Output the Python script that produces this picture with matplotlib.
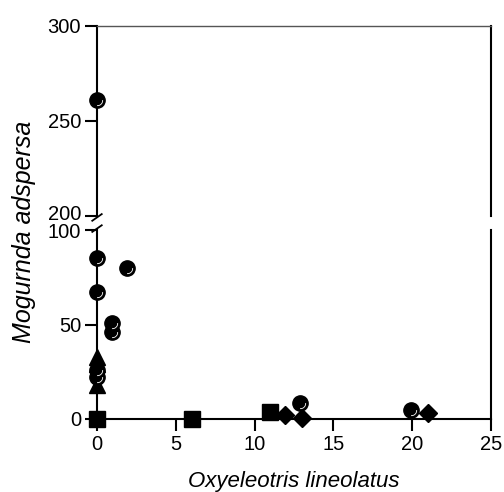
import matplotlib.pyplot as plt
import matplotlib.transforms as mtransforms
from matplotlib.path import Path

plt.rcParams['font.family'] = ['Liberation Sans', 'DejaVu Sans']

# circles
circ_x = [0, 0, 0, 0, 1.9, 0.95, 0.95, 12.9, 19.9]
circ_y = [85, 67, 26, 22, 80, 51, 46, 8.5, 4.8]
# circle in upper panel
circ_top_x = [0]
circ_top_y = [261]
# triangles
tri_x = [0, 0, 0]
tri_y = [33, 29, 18]
# squares
sq_x = [0, 6, 11]
sq_y = [0, 0, 3.7]
# diamonds
dia_x = [11.9, 13, 21]
dia_y = [2, 0.5, 3]

fig = plt.figure(figsize=(5.04, 4.92), dpi=100)
ax_top = fig.add_axes([97/504, 1 - 216/492, 394/504, 190/492])
ax_bot = fig.add_axes([97/504, 1 - 419/492, 394/504, 189/492])

ax_top.set_ylim(200, 300)
ax_bot.set_ylim(0, 100)
for ax in (ax_top, ax_bot):
    ax.set_xlim(0, 25)
    for s in ax.spines.values():
        s.set_linewidth(1.5)
    ax.tick_params(direction='out', length=8.5, width=1.5, labelsize=14.5, pad=3)

ax_top.spines['bottom'].set_visible(False)
ax_top.spines['top'].set_linewidth(1.0)
ax_top.spines['top'].set_color('#555555')
ax_top.tick_params(axis='x', bottom=False, labelbottom=False)
ax_top.set_yticks([200, 250, 300])
ax_bot.spines['top'].set_visible(False)
ax_bot.set_yticks([0, 50, 100])
ax_bot.set_xticks([0, 5, 10, 15, 20, 25])

# nudge the two labels at the break apart a little
fig.canvas.draw()
up = mtransforms.ScaledTranslation(0, 4/100, fig.dpi_scale_trans)
down = mtransforms.ScaledTranslation(0, -1/100, fig.dpi_scale_trans)
lab = ax_top.get_yticklabels()[0]
lab.set_transform(lab.get_transform() + up)
lab = ax_bot.get_yticklabels()[-1]
lab.set_transform(lab.get_transform() + down)

ms = 11
shine = Path.arc(-95, 5)  # little highlight on the shaded circles
def circles(ax, x, y):
    ax.plot(x, y, 'o', ms=ms, mfc='black', mec='black', clip_on=False, zorder=5)
    ax.plot(x, y, marker=shine, ls='none', ms=ms - 3.5, mfc='none', mec='white',
            mew=0.6, clip_on=False, zorder=6)

circles(ax_bot, circ_x, circ_y)
circles(ax_top, circ_top_x, circ_top_y)
ax_bot.plot(tri_x, tri_y, '^', ms=ms, color='black', clip_on=False, zorder=5)
ax_bot.plot(sq_x, sq_y, 's', ms=ms, color='black', clip_on=False, zorder=5)
ax_bot.plot(dia_x, dia_y, 'D', ms=ms - 2, color='black', clip_on=False, zorder=5)

# break marks on the left axis
d = 0.012
kw = dict(color='black', lw=1.3, clip_on=False)
ax_top.plot([-d, d], [-0.025, 0.01], transform=ax_top.transAxes, **kw)
ax_bot.plot([-d, d], [0.99, 1.025], transform=ax_bot.transAxes, **kw)

ax_bot.set_xlabel('Oxyeleotris lineolatus', fontsize=16, style='italic', labelpad=12)
fig.text(24/504, 1 - 232/492, 'Mogurnda adspersa', fontsize=18, style='italic',
         rotation=90, ha='center', va='center')

fig.savefig('out.png', dpi=100)
